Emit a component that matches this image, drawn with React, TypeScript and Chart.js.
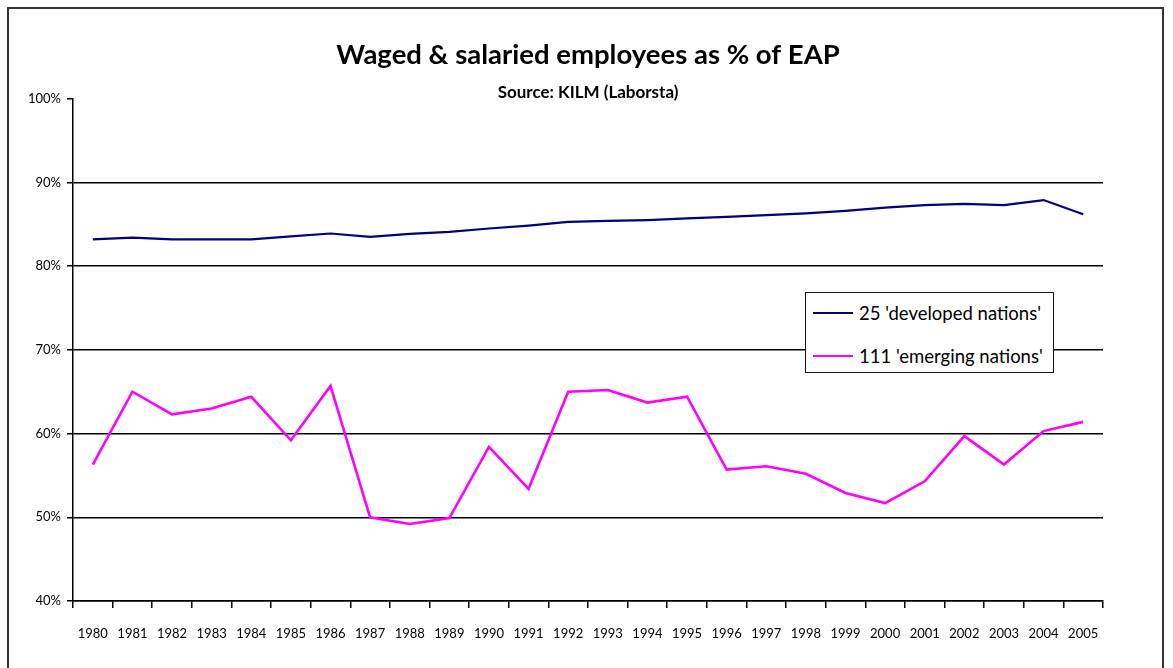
import React, { useEffect, useRef } from "react";
import { Chart, registerables } from "chart.js";

Chart.register(...registerables);

const years = ["1980","1981","1982","1983","1984","1985","1986","1987","1988","1989","1990","1991","1992","1993","1994","1995","1996","1997","1998","1999","2000","2001","2002","2003","2004","2005"];
const developed = [83.2, 83.4, 83.2, 83.2, 83.2, 83.55, 83.9, 83.5, 83.85, 84.1, 84.5, 84.85, 85.3, 85.4, 85.5, 85.7, 85.9, 86.1, 86.3, 86.6, 87.0, 87.3, 87.45, 87.3, 87.9, 86.2];
const emerging = [56.3, 65.0, 62.3, 63.0, 64.4, 59.2, 65.7, 50.0, 49.2, 49.9, 58.4, 53.4, 65.0, 65.2, 63.7, 64.4, 55.7, 56.1, 55.2, 52.9, 51.7, 54.3, 59.7, 56.3, 60.3, 61.4];
const seriesNames = ["25 'developed nations'", "111 'emerging nations'"];
const seriesColors = ["#000080", "#FF00FF"];
const titleText = "Waged & salaried employees as % of EAP";
const subtitleText = "Source: KILM (Laborsta)";

const FONT = "Lato, 'Open Sans', sans-serif";

export default function App() {
  const ref = useRef<HTMLCanvasElement | null>(null);

  useEffect(() => {
    if (!ref.current) return;
    const chart = new Chart(ref.current, {
      type: "line",
      data: {
        labels: years,
        datasets: [
          { label: seriesNames[0], data: developed, borderColor: seriesColors[0], backgroundColor: seriesColors[0], borderWidth: 2.2, pointRadius: 0, tension: 0 },
          { label: seriesNames[1], data: emerging, borderColor: seriesColors[1], backgroundColor: seriesColors[1], borderWidth: 2.6, pointRadius: 0, tension: 0 },
        ],
      },
      options: {
        responsive: false,
        animation: false,
        layout: { padding: { left: 0, right: 70, top: 0, bottom: 0 } },
        plugins: {
          legend: { display: false },
          tooltip: { enabled: false },
          title: {
            display: true,
            text: titleText,
            color: "#000",
            font: { family: FONT, size: 27.5, weight: "bold" },
            padding: { top: 38.5, bottom: 0 },
            fullSize: false,
          },
          subtitle: {
            display: true,
            text: subtitleText,
            color: "#000",
            font: { family: FONT, size: 17, weight: "bold", lineHeight: 0.75 },
            padding: { top: 14.5, bottom: 0 },
            fullSize: false,
          },
        },
        scales: {
          x: {
            offset: true,
            grid: { offset: true, drawOnChartArea: false, drawTicks: true, tickLength: 7, color: "#000", tickColor: "#000", lineWidth: 1.5 },
            border: { color: "#000", width: 1.5 },
            ticks: { color: "#000", font: { family: FONT, size: 13 }, padding: 18, maxRotation: 0, autoSkip: false },
            afterFit: (s: any) => { s.height = 67; },
          },
          y: {
            min: 40,
            max: 100,
            grid: {
              color: (c: any) => (c.tick && c.tick.value === 100 ? "rgba(0,0,0,0)" : "#000"),
              tickColor: "#000",
              lineWidth: 1.5,
              tickLength: 6,
            },
            border: { color: "#000", width: 1.5 },
            ticks: {
              stepSize: 10,
              color: "#000",
              padding: 6,
              font: { family: FONT, size: 13 },
              callback: (v: any) => v + "%",
            },
            afterFit: (s: any) => { s.width = 73; },
          },
        },
      },
    });
    return () => chart.destroy();
  }, []);

  return (
    <div style={{ position: "fixed", left: 0, top: 0, width: 1173, height: 668, background: "#fff", overflow: "hidden" }}>
      <canvas ref={ref} width={1173} height={668} style={{ position: "absolute", left: 0, top: 0, display: "block" }} />
      <div style={{ position: "absolute", left: 7, top: 7, width: 1157, height: 700, border: "2px solid #333", boxSizing: "border-box", pointerEvents: "none" }} />
      <div style={{ position: "absolute", left: 805, top: 292, width: 249, height: 81, border: "1.5px solid #111", background: "#fff", boxSizing: "border-box", fontFamily: FONT, fontSize: 18.5, color: "#000" }}>
        {seriesNames.map((n, i) => (
          <div key={n} style={{ position: "absolute", left: 7, top: i === 0 ? 10 : 53, height: 20, display: "flex", alignItems: "center", whiteSpace: "nowrap" }}>
            <span style={{ display: "inline-block", width: 40, height: 2.5, background: seriesColors[i], marginRight: 6 }} />
            <span>{n}</span>
          </div>
        ))}
      </div>
    </div>
  );
}
